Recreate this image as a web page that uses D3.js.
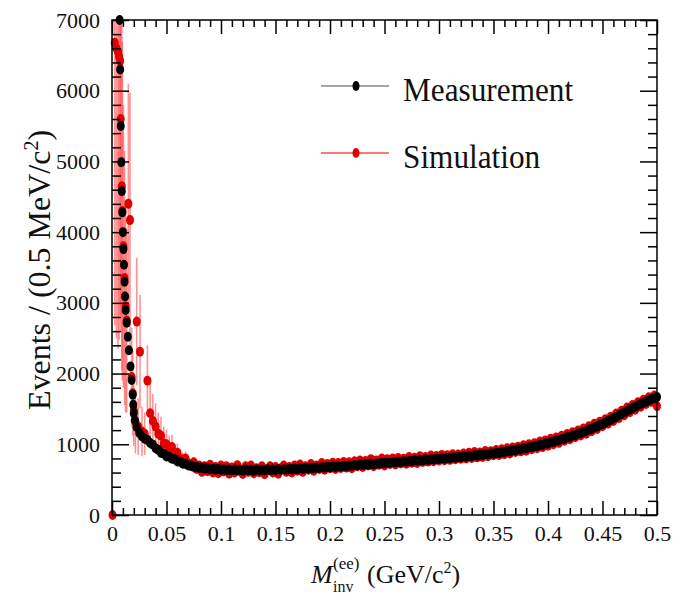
<!DOCTYPE html>
<html>
<head>
<meta charset="utf-8">
<script src="https://cdn.jsdelivr.net/npm/d3@7"></script>
<style>
  body { margin: 0; background: #fff; }
  svg { display: block; }
  text { font-family: "Liberation Serif", "Times New Roman", serif; fill: #111; }
</style>
</head>
<body>
<svg id="chart" width="687" height="595"></svg>
<script>
// Tick labels
const xTickValues = [0, 0.05, 0.1, 0.15, 0.2, 0.25, 0.3, 0.35, 0.4, 0.45, 0.5];
const xTickLabels = ["0", "0.05", "0.1", "0.15", "0.2", "0.25", "0.3", "0.35", "0.4", "0.45", "0.5"];
const yTickValues = [0, 1000, 2000, 3000, 4000, 5000, 6000, 7000];

// Measurement, steep low-mass part (GeV, events)
const measLowMass = [0.007, 0.0075, 0.008, 0.0085, 0.009, 0.0095, 0.01, 0.0105, 0.011, 0.0115,
  0.012, 0.0125, 0.0135, 0.0145, 0.0155, 0.017, 0.018, 0.019, 0.0195, 0.02,
  0.021, 0.0225, 0.025, 0.0275, 0.03];
const measLowEvents = [7000, 6300, 5500, 4990, 4580, 4280, 4000, 3760, 3540, 3300,
  3090, 2900, 2720, 2520, 2330, 2100, 1910, 1700, 1560, 1440,
  1340, 1245, 1160, 1110, 1080];

// Simulation, steep low-mass part (GeV, events, uncertainty)
const simLowMass = [0.0005, 0.0025, 0.004, 0.0055, 0.0065, 0.0075, 0.008, 0.009, 0.0095, 0.0105,
  0.0115, 0.0125, 0.0135, 0.015, 0.0165, 0.018, 0.019, 0.02, 0.0215, 0.0227,
  0.024, 0.0257, 0.0275, 0.03];
const simLowEvents = [0, 6680, 6600, 6550, 6480, 6420, 5600, 4650, 4300, 3800,
  3350, 2950, 2750, 4400, 4170, 1950, 1720, 1480, 1320, 2735,
  1250, 2310, 1180, 1150];
const simLowErrors = [0, 4000, 4100, 4200, 4000, 3600, 3000, 2600, 2400, 2000,
  1800, 1500, 1300, 1700, 1800, 700, 600, 500, 450, 900,
  400, 800, 350, 300];

// Common mass grid above 30 MeV (GeV)
const gridMass = [0.0325, 0.035, 0.0375, 0.04, 0.0425, 0.045, 0.0475, 0.05, 0.0525, 0.055,
  0.0575, 0.06, 0.0625, 0.065, 0.0675, 0.07, 0.0725, 0.075, 0.0775, 0.08,
  0.0825, 0.085, 0.0875, 0.09, 0.0925, 0.095, 0.0975, 0.1, 0.1025, 0.105,
  0.1075, 0.11, 0.1125, 0.115, 0.1175, 0.12, 0.1225, 0.125, 0.1275, 0.13,
  0.1325, 0.135, 0.1375, 0.14, 0.1425, 0.145, 0.1475, 0.15, 0.1525, 0.155,
  0.1575, 0.16, 0.1625, 0.165, 0.1675, 0.17, 0.1725, 0.175, 0.1775, 0.18,
  0.1825, 0.185, 0.1875, 0.19, 0.1925, 0.195, 0.1975, 0.2, 0.2025, 0.205,
  0.2075, 0.21, 0.2125, 0.215, 0.2175, 0.22, 0.2225, 0.225, 0.2275, 0.23,
  0.2325, 0.235, 0.2375, 0.24, 0.2425, 0.245, 0.2475, 0.25, 0.2525, 0.255,
  0.2575, 0.26, 0.2625, 0.265, 0.2675, 0.27, 0.2725, 0.275, 0.2775, 0.28,
  0.2825, 0.285, 0.2875, 0.29, 0.2925, 0.295, 0.2975, 0.3, 0.3025, 0.305,
  0.3075, 0.31, 0.3125, 0.315, 0.3175, 0.32, 0.3225, 0.325, 0.3275, 0.33,
  0.3325, 0.335, 0.3375, 0.34, 0.3425, 0.345, 0.3475, 0.35, 0.3525, 0.355,
  0.3575, 0.36, 0.3625, 0.365, 0.3675, 0.37, 0.3725, 0.375, 0.3775, 0.38,
  0.3825, 0.385, 0.3875, 0.39, 0.3925, 0.395, 0.3975, 0.4, 0.4025, 0.405,
  0.4075, 0.41, 0.4125, 0.415, 0.4175, 0.42, 0.4225, 0.425, 0.4275, 0.43,
  0.4325, 0.435, 0.4375, 0.44, 0.4425, 0.445, 0.4475, 0.45, 0.4525, 0.455,
  0.4575, 0.46, 0.4625, 0.465, 0.4675, 0.47, 0.4725, 0.475, 0.4775, 0.48,
  0.4825, 0.485, 0.4875, 0.49, 0.4925, 0.495, 0.4975, 0.5];

const measGridEvents = [1062, 1018, 995, 944, 921, 879, 866, 829, 824, 796,
  790, 758, 752, 726, 723, 700, 699, 681, 683, 666,
  670, 656, 662, 648, 655, 642, 650, 638, 646, 632,
  642, 630, 644, 633, 640, 628, 645, 634, 639, 627,
  643, 632, 641, 630, 646, 635, 642, 633, 648, 638,
  646, 640, 652, 643, 655, 648, 660, 651, 663, 657,
  667, 661, 672, 664, 676, 670, 681, 674, 685, 680,
  690, 684, 696, 690, 701, 695, 707, 701, 713, 706,
  718, 712, 725, 718, 730, 724, 736, 731, 742, 736,
  748, 742, 754, 748, 759, 754, 765, 760, 771, 766,
  778, 771, 784, 778, 790, 784, 797, 791, 803, 797,
  810, 804, 816, 811, 823, 818, 830, 825, 838, 832,
  845, 840, 853, 848, 861, 857, 870, 866, 881, 877,
  892, 889, 904, 900, 916, 913, 930, 926, 944, 941,
  959, 957, 975, 974, 993, 992, 1012, 1011, 1032, 1033,
  1053, 1055, 1076, 1078, 1100, 1102, 1125, 1128, 1151, 1155,
  1179, 1184, 1208, 1215, 1240, 1250, 1272, 1288, 1306, 1328,
  1345, 1368, 1386, 1410, 1428, 1450, 1470, 1491, 1509, 1530,
  1548, 1569, 1585, 1604, 1620, 1640, 1652, 1668];

const simGridEvents = [1900, 1440, 1330, 1250, 1150, 1120, 1010, 1000, 930, 960,
  860, 880, 800, 770, 800, 730, 690, 745, 650, 700,
  610, 690, 620, 710, 600, 680, 590, 700, 615, 690,
  585, 670, 600, 705, 620, 580, 690, 610, 700, 590,
  660, 605, 690, 575, 640, 690, 600, 680, 585, 660,
  700, 610, 680, 600, 700, 625, 715, 610, 690, 640,
  720, 625, 700, 650, 735, 640, 720, 660, 740, 650,
  735, 665, 750, 670, 745, 660, 760, 690, 770, 680,
  765, 700, 790, 690, 770, 710, 800, 700, 790, 720,
  800, 715, 805, 730, 795, 725, 820, 740, 810, 735,
  830, 750, 820, 755, 840, 760, 835, 770, 850, 775,
  845, 780, 860, 790, 855, 795, 870, 800, 880, 805,
  890, 815, 885, 820, 905, 830, 900, 845, 920, 850,
  930, 860, 945, 870, 955, 890, 965, 900, 985, 910,
  1000, 930, 1015, 945, 1040, 960, 1055, 980, 1080, 1000,
  1095, 1020, 1120, 1050, 1145, 1070, 1170, 1100, 1195, 1125,
  1225, 1150, 1255, 1185, 1290, 1215, 1320, 1255, 1355, 1290,
  1390, 1330, 1435, 1370, 1475, 1410, 1520, 1455, 1555, 1490,
  1595, 1530, 1630, 1570, 1665, 1600, 1690, 1540];

// Simulation uncertainties for the first grid points (up to 70 MeV)
const simGridErrors = [500, 420, 380, 330, 300, 270, 240, 210, 190, 170,
  150, 130, 120, 110, 100, 90];

const svg = d3.select("#chart");
const plot = { left: 112, right: 657, top: 20, bottom: 515 };

const x = d3.scaleLinear().domain([0, 0.5]).range([plot.left, plot.right]);
const y = d3.scaleLinear().domain([0, 7000]).range([plot.bottom, plot.top]);

svg.append("defs").append("clipPath").attr("id", "plotClip")
  .append("rect")
  .attr("x", plot.left).attr("y", plot.top)
  .attr("width", plot.right - plot.left).attr("height", plot.bottom - plot.top);

// Assemble point lists
const measPts = measLowMass.map((m, i) => ({ m, v: measLowEvents[i] }))
  .concat(gridMass.map((m, i) => ({ m, v: measGridEvents[i] })));
const simPts = simLowMass.map((m, i) => ({ m, v: simLowEvents[i], e: simLowErrors[i] }))
  .concat(gridMass.map((m, i) => ({ m, v: simGridEvents[i], e: i < simGridErrors.length ? simGridErrors[i] : 0 })));

// Marker size (slightly taller than wide)
const RX = 4, RY = 5;

// Simulation error bars
svg.append("g").attr("clip-path", "url(#plotClip)")
  .selectAll("line").data(simPts.filter(d => d.e > 0)).join("line")
  .attr("x1", d => x(d.m)).attr("x2", d => x(d.m))
  .attr("y1", d => y(d.v - d.e)).attr("y2", d => y(d.v + d.e))
  .attr("stroke", "#ff3a3a").attr("stroke-opacity", 0.55).attr("stroke-width", 1.6);

// Simulation markers
svg.append("g").selectAll("ellipse").data(simPts).join("ellipse")
  .attr("cx", d => x(d.m)).attr("cy", d => y(d.v)).attr("rx", RX).attr("ry", RY)
  .attr("fill", "#e00000");

// Measurement markers
svg.append("g").selectAll("ellipse").data(measPts).join("ellipse")
  .attr("cx", d => x(d.m)).attr("cy", d => y(d.v)).attr("rx", RX).attr("ry", RY)
  .attr("fill", "#000");

// Axes with inward ticks
const xMinor = d3.range(0, 0.5001, 0.01).filter(v => Math.abs(v / 0.05 - Math.round(v / 0.05)) > 1e-6);
const yMinor = d3.range(0, 7001, 200).filter(v => v % 1000 !== 0);

function styleAxis(g) {
  g.select(".domain").remove();
  g.selectAll("line").attr("stroke", "#000").attr("stroke-width", 1.5);
  g.selectAll("text").attr("font-size", 22).attr("fill", "#111")
    .attr("font-family", "Liberation Serif, Times New Roman, serif");
}

svg.append("g").attr("transform", `translate(0,${plot.bottom})`)
  .call(d3.axisBottom(x).tickValues(xTickValues).tickSize(-14).tickPadding(10)
    .tickFormat((d, i) => xTickLabels[i]))
  .call(styleAxis);
svg.append("g").attr("transform", `translate(0,${plot.bottom})`)
  .call(d3.axisBottom(x).tickValues(xMinor).tickSize(-7).tickFormat(""))
  .call(styleAxis);
svg.append("g").attr("transform", `translate(0,${plot.top})`)
  .call(d3.axisTop(x).tickValues(xTickValues).tickSize(-14).tickFormat(""))
  .call(styleAxis);
svg.append("g").attr("transform", `translate(0,${plot.top})`)
  .call(d3.axisTop(x).tickValues(xMinor).tickSize(-7).tickFormat(""))
  .call(styleAxis);

svg.append("g").attr("transform", `translate(${plot.left},0)`)
  .call(d3.axisLeft(y).tickValues(yTickValues).tickSize(-17).tickPadding(12)
    .tickFormat(d3.format("d")))
  .call(styleAxis);
svg.append("g").attr("transform", `translate(${plot.left},0)`)
  .call(d3.axisLeft(y).tickValues(yMinor).tickSize(-9).tickFormat(""))
  .call(styleAxis);
svg.append("g").attr("transform", `translate(${plot.right},0)`)
  .call(d3.axisRight(y).tickValues(yTickValues).tickSize(-17).tickFormat(""))
  .call(styleAxis);
svg.append("g").attr("transform", `translate(${plot.right},0)`)
  .call(d3.axisRight(y).tickValues(yMinor).tickSize(-9).tickFormat(""))
  .call(styleAxis);

// Frame
svg.append("rect")
  .attr("x", plot.left).attr("y", plot.top)
  .attr("width", plot.right - plot.left).attr("height", plot.bottom - plot.top)
  .attr("fill", "none").attr("stroke", "#000").attr("stroke-width", 1.5);

// X axis title: M_inv^(ee) (GeV/c^2)
const xt = svg.append("g");
xt.append("text").attr("x", 311).attr("y", 583).attr("font-size", 26)
  .attr("font-style", "italic").text("M");
xt.append("text").attr("x", 333).attr("y", 569).attr("font-size", 17).text("(ee)");
xt.append("text").attr("x", 333).attr("y", 592).attr("font-size", 16).text("inv");
const xt2 = xt.append("text").attr("x", 367).attr("y", 583).attr("font-size", 26);
xt2.append("tspan").text("(GeV/c");
xt2.append("tspan").attr("font-size", 16).attr("dy", -10).text("2");
xt2.append("tspan").attr("dy", 10).text(")");

// Y axis title
const yt = svg.append("text")
  .attr("transform", "translate(50,270) rotate(-90)")
  .attr("text-anchor", "middle").attr("font-size", 32);
yt.append("tspan").text("Events / (0.5 MeV/c");
yt.append("tspan").attr("font-size", 20).attr("dy", -12).text("2");
yt.append("tspan").attr("dy", 12).text(")");

// Legend
const legendItems = [
  { label: "Measurement", line: "#888", dot: "#000", y: 86 },
  { label: "Simulation", line: "#ff4a4a", dot: "#e00000", y: 153 }
];
const lg = svg.append("g");
legendItems.forEach(it => {
  lg.append("line").attr("x1", 321).attr("x2", 389).attr("y1", it.y).attr("y2", it.y)
    .attr("stroke", it.line).attr("stroke-width", 1.5);
  lg.append("ellipse").attr("cx", 356).attr("cy", it.y).attr("rx", 3.5).attr("ry", 5).attr("fill", it.dot);
  lg.append("text").attr("transform", `translate(403,${it.y + 15}) scale(0.92,1)`)
    .attr("font-size", 34).text(it.label);
});
</script>
</body>
</html>
